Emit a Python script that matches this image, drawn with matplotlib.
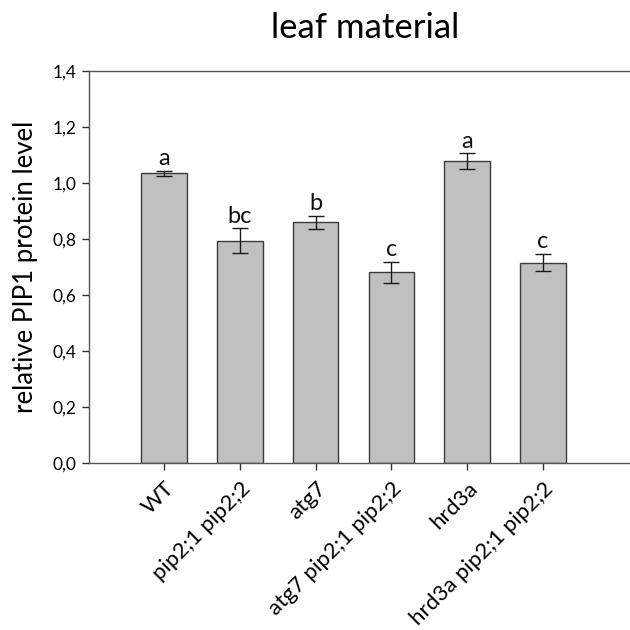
import numpy as np
import matplotlib
matplotlib.use('Agg')
import matplotlib.pyplot as plt

plt.rcParams['font.family'] = ['Lato', 'DejaVu Sans']

# ── data ─────────────────────────────────────────────────────────────────────
genotypes = ['WT', 'pip2;1 pip2;2', 'atg7', 'atg7 pip2;1 pip2;2',
             'hrd3a', 'hrd3a pip2;1 pip2;2']
means = [1.035, 0.795, 0.860, 0.682, 1.079, 0.716]
errors = [0.010, 0.043, 0.024, 0.038, 0.027, 0.031]
letters = ['a', 'bc', 'b', 'c', 'a', 'c']
yticks = [0.0, 0.2, 0.4, 0.6, 0.8, 1.0, 1.2, 1.4]

# ── figure ───────────────────────────────────────────────────────────────────
fig = plt.figure(figsize=(6.3, 6.3), dpi=100)
ax = fig.add_axes([0.141, 0.265, 0.859, 0.622])

x = np.arange(len(genotypes))
ax.bar(x, means, width=0.6, color='#c0c0c0', edgecolor='#3a3a3a',
       linewidth=1.0, zorder=2)
ax.errorbar(x, means, yerr=errors, fmt='none', ecolor='#1a1a1a',
            elinewidth=1.0, capsize=6, capthick=1.0, zorder=3)

for xi, m, e, lab in zip(x, means, errors, letters):
    ax.text(xi, m + e + 0.006, lab, ha='center', va='bottom',
            fontsize=17, color='#111111')

ax.set_xlim(-0.995, 6.15)
ax.set_ylim(0, 1.4)
ax.set_yticks(yticks)
ax.set_yticklabels([f'{v:.1f}'.replace('.', ',') for v in yticks],
                   fontsize=12.5)
ax.set_xticks(x)
ax.set_xticklabels(genotypes, rotation=45, ha='right',
                   rotation_mode='anchor', fontsize=16)

ax.spines['right'].set_visible(False)
for side in ('left', 'top', 'bottom'):
    ax.spines[side].set_color('#555555')
    ax.spines[side].set_linewidth(1.0)
ax.tick_params(axis='both', direction='out', length=5, width=1,
               color='#333333', pad=4)
ax.tick_params(axis='x', pad=6)

ax.set_ylabel('relative PIP1 protein level', fontsize=18.5, labelpad=10)
fig.text(0.58, 0.94, 'leaf material', ha='center', va='baseline',
         fontsize=25)

fig.savefig('out.png', dpi=100)
plt.close()
